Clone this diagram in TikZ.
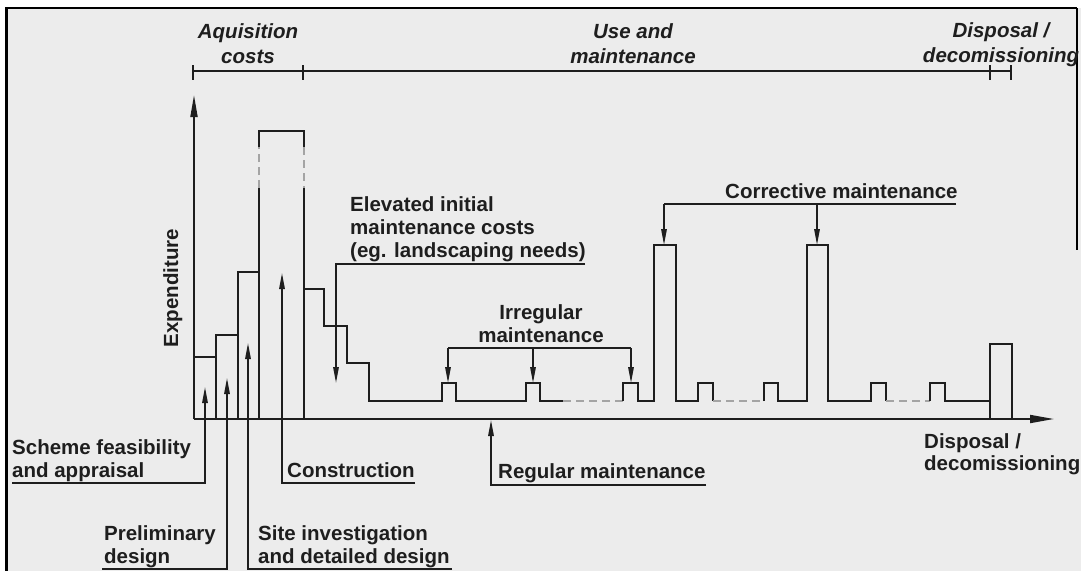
\documentclass[tikz,border=0pt]{standalone}
\usepackage{fontspec}
\setmainfont{Liberation Sans}
\usetikzlibrary{arrows.meta}
\definecolor{ink}{HTML}{1E1E1E}
\definecolor{paper}{HTML}{ECECEC}
\definecolor{faint}{HTML}{A4A4A4}

\begin{document}
\begin{tikzpicture}[x=1pt,y=-1pt,
  line join=miter,
  curve/.style={ink, line width=1.8pt},
  gap/.style={faint, line width=1.3pt, dash pattern=on 8pt off 5pt},
  plain/.style={ink, line width=1.5pt},
  lead/.style={ink, line width=1.5pt, -{Triangle[length=16pt,width=5.5pt]}},
  lbl/.style={font=\fontsize{20.5}{23}\selectfont\bfseries, text=ink, inner sep=0pt, align=left},
  phase/.style={font=\fontsize{20.5}{24.5}\selectfont\bfseries\itshape, text=ink, inner sep=0pt, align=center},
]
\useasboundingbox (0,0) rectangle (1081,571);

% sheet and frame
\fill[white] (0,0) rectangle (1081,571);
\fill[paper] (5,8) rectangle (1081,571);
\draw[black, line width=1.8pt] (5,8) -- (1077,8);
\draw[black, line width=1.8pt] (1077,8) -- (1077,250);
\draw[black, line width=3.2pt] (6.5,8) -- (6.5,571);

% phase bracket (multi-line nodes sit on the baseline of their last line)
\draw[plain] (193,71) -- (1011,71);
\foreach \t in {193,303,990,1011} \draw[plain] (\t,65) -- (\t,80);
\node[phase, anchor=base] (acq) at (248,63) {Aquisition\\costs};
\node[phase, anchor=base] (use) at (633,63) {Use and\\maintenance};
\node[phase, anchor=base] (disp) at (1001,62) {Disposal /\\decomissioning};

% axes
\coordinate (origin) at (194,419);
\coordinate (ytip) at (194,95);
\coordinate (xtip) at (1054,419);
\draw[curve, -{Triangle[length=22pt,width=7pt]}] (origin) -- (ytip);
\draw[curve, -{Triangle[length=24pt,width=8pt]}] (origin) -- (xtip);
\node[lbl, rotate=90, anchor=base] (expend) at (178,288) {Expenditure};

% acquisition bars
\draw[curve] (194,357) -- (216,357);
\draw[curve] (216,419) -- (216,335) -- (238,335);
\draw[curve] (238,419) -- (238,272) -- (259,272);
\draw[curve] (259,419) -- (259,188);
\draw[gap] (259,188) -- (259,147);
\draw[curve] (259,147) -- (259,131) -- (304,131) -- (304,147);
\draw[gap] (304,147) -- (304,188);
\draw[curve] (304,188) -- (304,419);

% maintenance profile
\draw[curve] (304,289) -- (324,289) -- (324,326) -- (347,326) -- (347,363)
  -- (369,363) -- (369,401) -- (442,401) -- (442,383) -- (456,383) -- (456,401)
  -- (526,401) -- (526,383) -- (540,383) -- (540,401) -- (563,401);
\draw[gap] (563,401) -- (623,401);
\draw[curve] (623,401) -- (623,383) -- (638,383) -- (638,401) -- (654,401)
  -- (654,245) -- (676,245) -- (676,401) -- (698,401) -- (698,383) -- (713,383)
  -- (713,401);
\draw[gap] (713,401) -- (764,401);
\draw[curve] (764,401) -- (764,383) -- (778,383) -- (778,401) -- (807,401)
  -- (807,245) -- (828,245) -- (828,401) -- (871,401) -- (871,383) -- (886,383)
  -- (886,401);
\draw[gap] (886,401) -- (930,401);
\draw[curve] (930,401) -- (930,383) -- (945,383) -- (945,401) -- (990,401);
\draw[curve] (990,419) -- (990,344) -- (1012,344) -- (1012,419);

% acquisition stage labels
\node[lbl, anchor=base west] (scheme) at (12,477) {Scheme feasibility\\and appraisal};
\coordinate (schemeL) at (12,483);
\coordinate (schemeT) at (205,387);
\draw[lead] (schemeL) -| (schemeT);

\node[lbl, anchor=base west] (prelim) at (104,563) {Preliminary\\design};
\coordinate (prelimL) at (102,569);
\coordinate (prelimT) at (227,378);
\draw[lead] (prelimL) -| (prelimT);

\node[lbl, anchor=base west] (site) at (258,563) {Site investigation\\and detailed design};
\coordinate (siteR) at (452,569);
\coordinate (siteT) at (248,343);
\draw[lead] (siteR) -| (siteT);

\node[lbl, anchor=base west] (constr) at (287,477) {Construction};
\coordinate (constrR) at (415,483);
\coordinate (constrT) at (282,273);
\draw[lead] (constrR) -| (constrT);

% maintenance labels
\node[lbl, anchor=base west] (elev) at (350,257) {Elevated initial\\maintenance costs\\(eg. landscaping needs)};
\coordinate (elevR) at (585,264);
\coordinate (elevT) at (336,383);
\draw[lead] (elevR) -| (elevT);

\node[lbl, anchor=base, align=center] (irreg) at (541,342) {Irregular\\maintenance};
\coordinate (irrA) at (448,348);
\coordinate (irrB) at (533,348);
\coordinate (irrC) at (631,348);
\draw[plain] (irrA) -- (irrC);
\draw[lead] (irrA) -- (448,383);
\draw[lead] (irrB) -- (533,383);
\draw[lead] (irrC) -- (631,383);

\node[lbl, anchor=base west] (corr) at (725,198) {Corrective maintenance};
\coordinate (corrA) at (664,204);
\coordinate (corrB) at (817,204);
\coordinate (corrR) at (956,204);
\draw[plain] (corrR) -- (corrA);
\draw[lead] (corrA) -- (664,245);
\draw[lead] (corrB) -- (817,245);

\node[lbl, anchor=base west] (regular) at (498,478) {Regular maintenance};
\coordinate (regR) at (706,485);
\coordinate (regT) at (491,420);
\draw[lead] (regR) -| (regT);

\node[lbl, anchor=base west, font=\fontsize{20.5}{22}\selectfont\bfseries] (dispend) at (924,470) {Disposal /\\decomissioning};
\end{tikzpicture}
\end{document}
